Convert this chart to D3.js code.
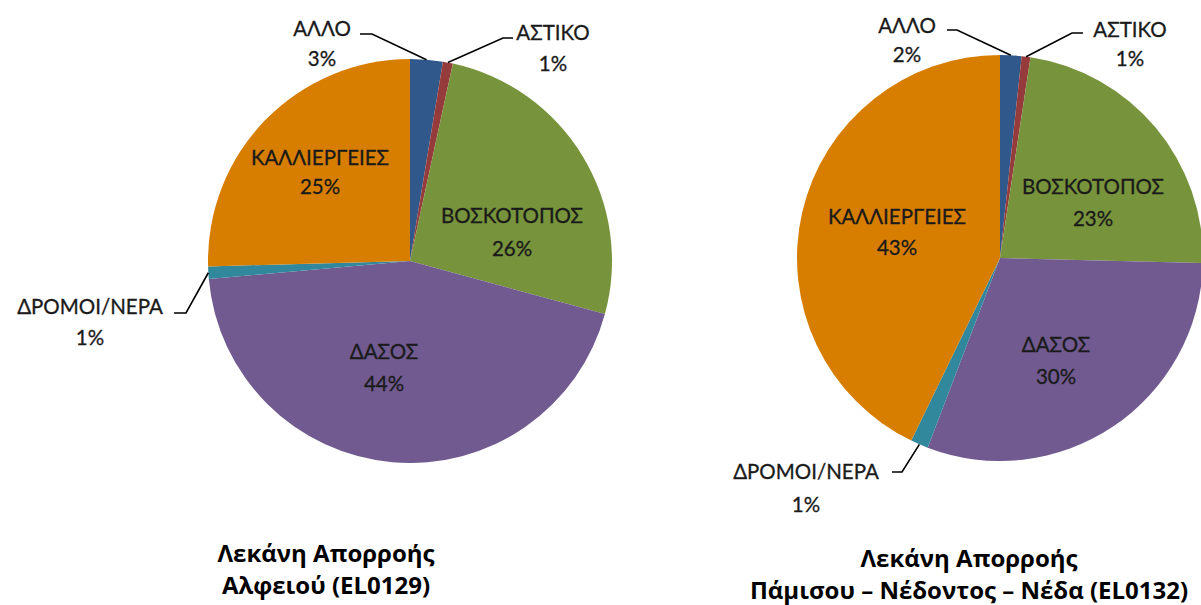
<!DOCTYPE html>
<html>
<head>
<meta charset="utf-8">
<script src="https://cdn.jsdelivr.net/npm/d3@7"></script>
<style>
  html, body { margin: 0; padding: 0; background: #ffffff; }
  svg { display: block; }
</style>
</head>
<body>
<svg id="chart" width="1201" height="605"></svg>
<script>
// ---- data ----
const categories = ["ΑΛΛΟ", "ΑΣΤΙΚΟ", "ΒΟΣΚΟΤΟΠΟΣ", "ΔΑΣΟΣ", "ΔΡΟΜΟΙ/ΝΕΡΑ", "ΚΑΛΛΙΕΡΓΕΙΕΣ"];
const alfeiosValues = [2.6, 0.8, 25.8, 44.3, 1.0, 25.4];
const pamisosValues = [1.7, 0.7, 23.0, 30.4, 1.4, 42.8];
const alfeiosTitle = ["Λεκάνη Απορροής", "Αλφειού (EL0129)"];
const pamisosTitle = ["Λεκάνη Απορροής", "Πάμισου – Νέδοντος – Νέδα (EL0132)"];
const colors = ["#30588A", "#963B3B", "#77933C", "#705A90", "#31889C", "#D77E00"];

// ---- layout (positions only) ----
// label: [x, nameY, pctY]; leader: [startX, kneeX, y] or null
const charts = [
  {
    values: alfeiosValues, title: alfeiosTitle,
    cx: 410, cy: 261, r: 202,
    titleX: 326, titleY: [553, 585],
    labels: [[322, 29, 59], [553, 33, 64], [512, 216, 249], [384, 352, 384], [90, 307, 338], [320, 158, 187]],
    leaders: [[360, 372, 34], [513, 503, 38], null, null, [174, 186, 313], null]
  },
  {
    values: pamisosValues, title: pamisosTitle,
    cx: 1000, cy: 258, r: 203,
    titleX: 969, titleY: [558, 590],
    labels: [[907, 26, 55], [1130, 30, 59], [1093, 187, 219], [1056, 345, 377], [806, 472, 505], [897, 217, 248]],
    leaders: [[947, 957, 30], [1083, 1072, 33], null, null, [892, 902, 472], null]
  }
];

const svg = d3.select("#chart");
const color = d3.scaleOrdinal().domain(categories).range(colors);
const pie = d3.pie().sort(null).value(d => d.value);
const fmt = d3.format(".0%");

charts.forEach(ch => {
  const data = categories.map((c, i) => ({ cat: c, value: ch.values[i], idx: i }));
  const total = d3.sum(ch.values);
  const arcs = pie(data);
  const arc = d3.arc().innerRadius(0).outerRadius(ch.r);
  const g = svg.append("g");

  g.selectAll("path.slice")
    .data(arcs)
    .join("path")
    .attr("class", "slice")
    .attr("transform", `translate(${ch.cx},${ch.cy})`)
    .attr("d", arc)
    .attr("fill", d => color(d.data.cat));

  // leader lines
  arcs.forEach((a, i) => {
    const L = ch.leaders[i];
    if (!L) return;
    const mid = (a.startAngle + a.endAngle) / 2;
    const ex = ch.cx + ch.r * Math.sin(mid);
    const ey = ch.cy - ch.r * Math.cos(mid);
    g.append("polyline")
      .attr("points", `${L[0]},${L[2]} ${L[1]},${L[2]} ${ex},${ey}`)
      .attr("fill", "none")
      .attr("stroke", "#000")
      .attr("stroke-width", 1.6);
  });

  // labels
  arcs.forEach((a, i) => {
    const p = ch.labels[i];
    const t = g.append("g")
      .attr("font-family", "Lato, 'Open Sans', sans-serif")
      .attr("font-size", 20.5)
      .attr("fill", "#1a1a1a")
      .attr("stroke", "#1a1a1a")
      .attr("stroke-width", 0.3)
      .attr("text-anchor", "middle");
    t.append("text").attr("x", p[0]).attr("y", p[1]).attr("dy", "0.36em").text(a.data.cat);
    t.append("text").attr("x", p[0]).attr("y", p[2]).attr("dy", "0.36em").text(fmt(a.data.value / total));
  });

  // title
  ch.title.forEach((line, k) => {
    svg.append("text")
      .attr("x", ch.titleX).attr("y", ch.titleY[k]).attr("dy", "0.36em")
      .attr("text-anchor", "middle")
      .attr("font-family", "'Open Sans', Lato, sans-serif")
      .attr("font-weight", "bold")
      .attr("font-size", 24)
      .attr("fill", "#000")
      .text(line);
  });
});
</script>
</body>
</html>
